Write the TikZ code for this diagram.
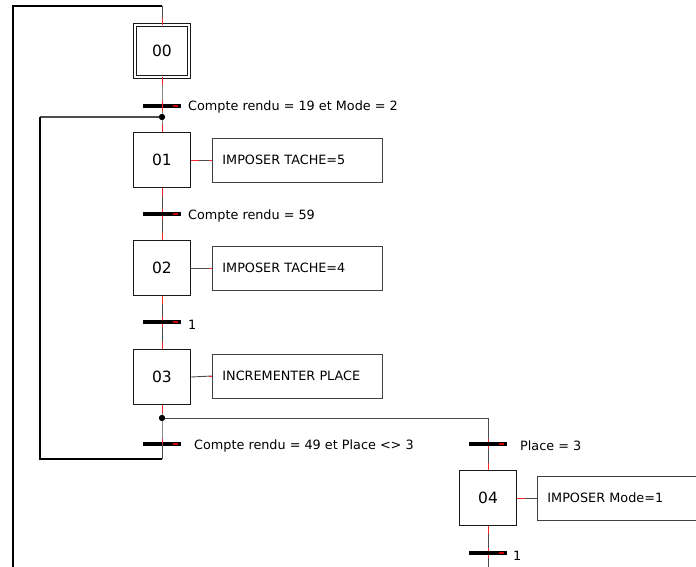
\documentclass[tikz,border=0pt]{standalone}
\usepackage{fontspec}
\setmainfont{DejaVu Sans}
\begin{document}
\begin{tikzpicture}[x=1pt,y=-1pt,
  stepbox/.style={draw=black!90,line width=1.5pt,minimum width=57pt,minimum height=55pt,inner sep=0pt,font=\fontsize{15.5}{18}\selectfont},
  initstep/.style={draw=black!90,double,line width=1pt,double distance=1.6pt,minimum width=53.5pt,minimum height=51.5pt,inner sep=0pt,font=\fontsize{15.5}{18}\selectfont},
  actbox/.style={draw=black!75,line width=0.9pt,minimum height=44pt,text width=150pt,inner xsep=10pt,inner ysep=0pt,align=left,anchor=west,font=\fontsize{12.8}{15}\selectfont},
  trbar/.style={fill=black,minimum width=37pt,minimum height=4pt,inner sep=0pt},
  trlabel/.style={anchor=west,inner sep=0pt,font=\fontsize{12.8}{15}\selectfont},
  link/.style={draw=black!70,line width=0.9pt},
  redtick/.style={draw=red!85,line width=0.9pt},
  loopline/.style={draw=black,line width=1.6pt},
  dot/.style={circle,fill=black,minimum size=6pt,inner sep=0pt}]
\useasboundingbox (0,0) rectangle (696,567);
\clip (0,0) rectangle (696,567);
\fill[white] (0,0) rectangle (696,567);
% steps
\node[initstep] (s00) at (162,51) {00};
\node[stepbox] (s01) at (162,160) {01};
\node[stepbox] (s02) at (162,268) {02};
\node[stepbox] (s03) at (162,377) {03};
\node[stepbox] (s04) at (488,498) {04};
% actions
\node[actbox] (a01) at (212,160) {IMPOSER TACHE=5};
\node[actbox] (a02) at (212,268) {IMPOSER TACHE=4};
\node[actbox] (a03) at (212,376) {INCREMENTER PLACE};
\node[actbox] (a04) at (537,498) {IMPOSER Mode=1};
% transitions
\node[trbar] (t1) at (162,106) {};
\node[trbar] (t2) at (162,214) {};
\node[trbar] (t3) at (162,322) {};
\node[trbar] (t4) at (162,444) {};
\node[trbar] (t5) at (488,444) {};
\node[trbar] (t6) at (488,553) {};
\node[trlabel] (l1) at (188,107) {Compte rendu = 19 et Mode = 2};
\node[trlabel] (l2) at (188,216) {Compte rendu = 59};
\node[trlabel] (l3) at (188,325) {1};
\node[trlabel] (l4) at (194,446) {Compte rendu = 49 et Place <> 3};
\node[trlabel] (l5) at (520,446) {Place = 3};
\node[trlabel] (l6) at (513,556) {1};
% junctions and corners
\node[dot] (j1) at (162,117) {};
\node[dot] (j2) at (162,418) {};
\coordinate (top) at (162,6);
\coordinate (topl) at (13,6);
\coordinate (botl) at (13,567);
\coordinate (lb) at (162,459);
\coordinate (lbl) at (40,459);
\coordinate (ltl) at (40,117);
\coordinate (br) at (488,418);
\coordinate (bot4) at (488,567);
% vertical links
\draw[link] (top) -- (s00.north);
\draw[link] (s00.south) -- (j1.center) -- (s01.north);
\draw[link] (s01.south) -- (s02.north);
\draw[link] (s02.south) -- (s03.north);
\draw[link] (s03.south) -- (j2.center) -- (t4.center) -- (lb);
\draw[link] (j2.center) -- (br) -- (s04.north);
\draw[link] (s04.south) -- (bot4);
% action links
\draw[link] (s01.east) -- (a01.west);
\draw[link] (s02.east) -- (a02.west);
\draw[link] (s03.east) -- (a03.west);
\draw[link] (s04.east) -- (a04.west);
% red ticks
\foreach \n in {s00,s01,s02,s03,s04}{
  \draw[redtick] (\n.north) -- ++(0,-7);
  \draw[redtick] (\n.south) -- ++(0,8);
}
\foreach \n in {a01,a02,a03}{
  \draw[redtick] (\n.west) -- ++(-3,0);
}
\draw[redtick] (s01.east) -- ++(8,0);
\draw[redtick] (s04.east) -- ++(8,0);
\foreach \n in {t1,t2,t3,t4,t5,t6}{
  \draw[redtick] (\n.center) ++(0,-5) -- ++(0,10);
  \draw[draw=red!80!black,line width=1.6pt] (\n.east) ++(-8,0) -- ++(5,0);
}
% redraw bars over lines
\foreach \n in {t1,t2,t3,t4,t5,t6}{
  \fill[black] (\n.west) ++(0,-2) rectangle ++(26,4);
}
\foreach \n in {t1,t4}{
  \draw[redtick] (\n.center) ++(0,-3) -- ++(0,6);
}
% loop lines
\draw[loopline] (s00.north) ++(0,0) (top) -- (topl) -- (botl);
\draw[link,line width=1.1pt] (j1.center) -- (ltl);
\draw[loopline] (ltl) -- (lbl) -- (lb);
\draw[link] (lb) -- (t4.center);
\node[dot] at (j1) {};
\node[dot] at (j2) {};
\end{tikzpicture}
\end{document}
